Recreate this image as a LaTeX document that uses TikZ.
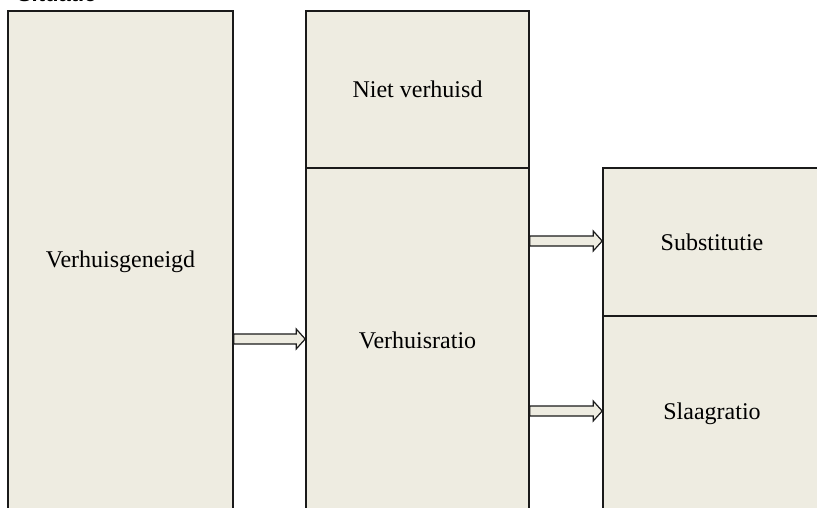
\documentclass[tikz,border=0pt]{standalone}
\usepackage{fontspec}
\setmainfont{Liberation Serif}
\newfontfamily\headfont{Liberation Sans}
\usetikzlibrary{calc}
\definecolor{boxfill}{HTML}{EEECE1}
\definecolor{boxline}{HTML}{1A1A1A}
\tikzset{
  blockbox/.style={draw=boxline, line width=1.6pt, fill=boxfill, rectangle, inner sep=0pt,
    font=\fontsize{24}{28}\selectfont, text=black},
  blockarrow/.style={draw=boxline, line width=1.2pt, fill=boxfill, line join=miter}
}
\newcommand{\blockarr}[2]{%
  \draw[blockarrow] ($(#1)+(0,5)$) -- ($(#2)+(-9,5)$) -- ($(#2)+(-9,10)$) -- (#2)
    -- ($(#2)+(-9,-10)$) -- ($(#2)+(-9,-5)$) -- ($(#1)+(0,-5)$) -- cycle;}
\begin{document}
\begin{tikzpicture}[x=1pt,y=-1pt]
\useasboundingbox (0,0) rectangle (817,508);
\clip (0,0) rectangle (817,508);
\node[anchor=base east, font=\headfont\bfseries\fontsize{22}{26}\selectfont] (title) at (100,2) {Situatie};
% boxes
\node[blockbox, minimum width=225pt, minimum height=501pt] (geneigd) at (120.5,261.5) {Verhuisgeneigd};
\node[blockbox, minimum width=223pt, minimum height=157pt] (niet) at (417.5,89.5) {Niet verhuisd};
\node[blockbox, minimum width=223pt, minimum height=344pt] (ratio) at (417.5,340) {Verhuisratio};
\node[blockbox, minimum width=218pt, minimum height=148pt] (subst) at (712,242) {Substitutie};
\node[blockbox, minimum width=218pt, minimum height=196pt] (slaag) at (712,414) {Slaagratio};
% arrows
\coordinate (a1s) at (geneigd.east |- 0,339);
\coordinate (a1e) at (ratio.west |- 0,339);
\coordinate (a2s) at (ratio.east |- 0,241);
\coordinate (a2e) at (subst.west |- 0,241);
\coordinate (a3s) at (ratio.east |- 0,411);
\coordinate (a3e) at (slaag.west |- 0,411);
\blockarr{a1s}{a1e}
\blockarr{a2s}{a2e}
\blockarr{a3s}{a3e}
\end{tikzpicture}
\end{document}
